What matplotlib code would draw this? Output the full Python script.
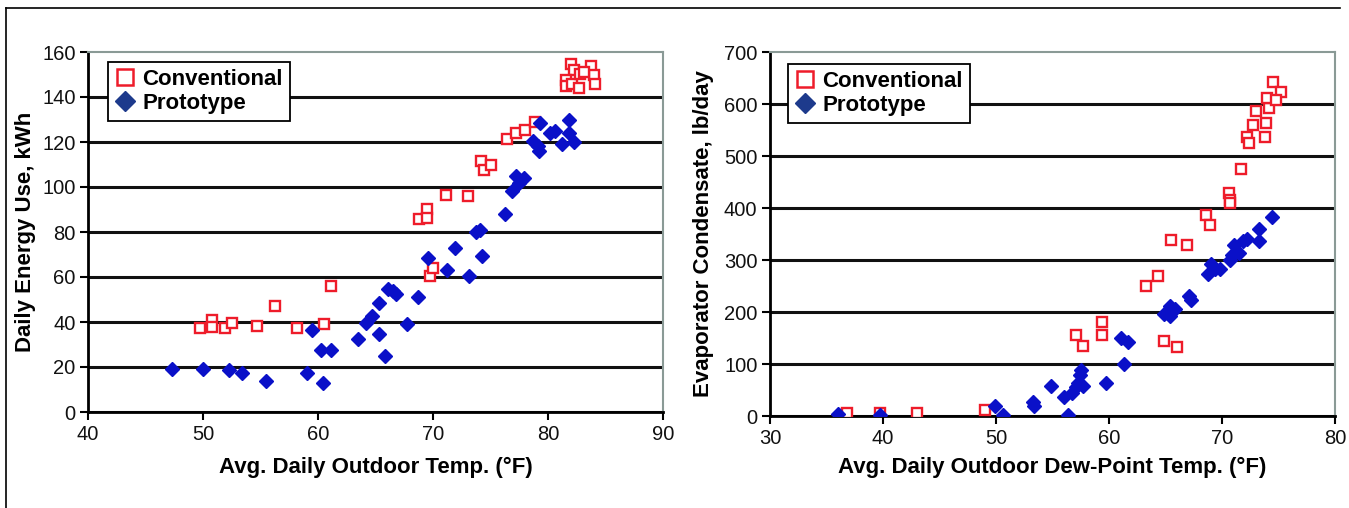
import matplotlib.pyplot as plt
from matplotlib.lines import Line2D

plt.rcParams['font.family'] = ['Liberation Sans', 'DejaVu Sans']

# left chart: daily energy use vs outdoor temperature
conv_temp = [49.7, 50.8, 50.8, 51.9, 52.5, 54.7, 56.3, 58.2, 60.5, 61.1,
             68.8, 69.5, 69.5, 69.7, 70.0, 71.1, 73.0, 74.2, 74.4, 75.0,
             76.4, 77.2, 78.0, 78.9, 82.0, 82.3, 81.6, 81.6, 82.1, 82.7,
             82.8, 83.7, 84.0, 84.1, 83.1]
conv_kwh = [37.2, 41.0, 37.9, 37.2, 39.6, 38.2, 47.1, 37.2, 39.2, 56.2,
            85.8, 90.2, 86.3, 60.4, 64.2, 96.4, 95.8, 111.4, 107.4, 109.8,
            121.5, 124.2, 125.3, 128.7, 154.7, 152.0, 147.6, 144.9, 145.8, 144.0,
            150.2, 153.8, 149.8, 145.8, 151.1]

proto_temp = [47.3, 50.0, 52.3, 53.4, 55.5, 59.0, 60.4, 59.5, 60.3, 61.1,
              63.5, 64.2, 64.7, 65.3, 65.3, 65.8, 66.1, 66.5, 66.8, 67.7,
              68.7, 69.6, 71.2, 71.9, 73.1, 73.7, 74.1, 74.3, 76.3, 76.9,
              77.2, 77.5, 77.9, 78.7, 79.1, 79.2, 79.3, 80.2, 80.6, 81.2,
              81.8, 81.8, 82.3]
proto_kwh = [19.0, 19.0, 18.5, 17.2, 14.0, 17.3, 12.7, 36.4, 27.5, 27.5,
             32.5, 39.5, 42.5, 48.5, 34.7, 24.8, 54.5, 53.8, 52.6, 39.0,
             51.0, 68.3, 63.3, 72.8, 60.4, 80.0, 80.8, 69.5, 88.2, 98.3,
             104.8, 101.8, 104.2, 120.3, 118.3, 116.2, 128.3, 124.0, 125.0, 119.0,
             129.6, 123.9, 120.0]

# right chart: condensate vs dew point
dew_conv = [36.8, 39.7, 43.0, 49.0, 57.1, 57.7, 59.4, 59.4, 63.3, 64.3,
            64.9, 65.5, 66.0, 66.9, 68.6, 68.9, 70.6, 70.7, 70.7, 71.7,
            72.2, 72.4, 72.7, 73.0, 73.9, 73.8, 74.2, 74.0, 74.5, 75.2,
            74.8]
cond_conv = [6, 6, 5, 11, 156, 135, 181, 156, 250, 270,
             145, 339, 133, 329, 386, 367, 428, 416, 409, 475,
             536, 525, 559, 586, 564, 536, 592, 612, 643, 624,
             608]

dew_proto = [36.0, 39.7, 49.9, 50.6, 53.3, 53.4, 54.9, 56.0, 56.4, 56.7,
             57.1, 57.3, 57.4, 57.5, 57.7, 59.7, 61.1, 61.7, 61.3, 64.9,
             65.4, 65.4, 65.8, 65.2, 67.1, 67.3, 69.0, 68.8, 69.4, 69.8,
             70.7, 70.9, 71.1, 71.5, 71.9, 72.2, 73.3, 73.3, 74.4]
cond_proto = [3, 1, 20, 2, 26, 19, 57, 37, 2, 45,
              55, 64, 78, 88, 58, 64, 150, 143, 100, 196,
              211, 192, 205, 201, 231, 224, 292, 274, 282, 282,
              300, 310, 329, 313, 336, 341, 337, 360, 382]

left_xticks = [40, 50, 60, 70, 80, 90]
left_yticks = [0, 20, 40, 60, 80, 100, 120, 140, 160]
right_xticks = [30, 40, 50, 60, 70, 80]
right_yticks = [0, 100, 200, 300, 400, 500, 600, 700]

RED = '#ee1c2a'
BLUE = '#0a10c8'
NAVY = '#1d3a8c'
W, H = 1349, 508

fig = plt.figure(figsize=(W / 100, H / 100), dpi=100)
ax1 = fig.add_axes([88 / W, 1 - 412 / H, 575 / W, 360 / H])
ax2 = fig.add_axes([770 / W, 1 - 416 / H, 565 / W, 364 / H])

# outer frame (top and left only)
fig.add_artist(Line2D([6 / W, 1340 / W], [1 - 8 / H, 1 - 8 / H], color='black', lw=1.2))
fig.add_artist(Line2D([6 / W, 6 / W], [1 - 8 / H, 0], color='black', lw=1.2))


def style(ax, xticks, yticks, xlabel, ylabel, xlab_y, ylab_x):
    ax.set_xlim(xticks[0], xticks[-1])
    ax.set_ylim(yticks[0], yticks[-1])
    ax.set_xticks(xticks)
    ax.set_yticks(yticks)
    ax.tick_params(direction='out', length=6, width=1.5, labelsize=14.5,
                   labelcolor='#111111', pad=3)
    for s in ['left', 'bottom']:
        ax.spines[s].set_color('black')
        ax.spines[s].set_linewidth(2)
    for s in ['top', 'right']:
        ax.spines[s].set_color('#8a9a96')
        ax.spines[s].set_linewidth(1.5)
    ax.yaxis.grid(True, color='#111111', lw=2.2)
    ax.get_ygridlines()[-1].set_visible(False)
    ax.set_axisbelow(True)
    ax.set_xlabel(xlabel, fontsize=16, fontweight='bold', va='center')
    ax.set_ylabel(ylabel, fontsize=16, fontweight='bold', va='center')
    ax.xaxis.set_label_coords(0.5, xlab_y)
    ax.yaxis.set_label_coords(ylab_x, 0.5)


def points(ax, xc, yc, xp, yp, anchor):
    ax.plot(xc, yc, 's', ms=7, mfc='white', mec=RED, mew=1.7, ls='none', zorder=3)
    ax.plot(xp, yp, 'D', ms=7, mfc=BLUE, mec=BLUE, ls='none', zorder=4)
    handles = [
        Line2D([], [], marker='s', ls='none', ms=11, mfc='white', mec=RED, mew=1.8),
        Line2D([], [], marker='D', ls='none', ms=10, mfc=NAVY, mec=NAVY),
    ]
    leg = ax.legend(handles, ['Conventional', 'Prototype'], loc='upper left',
                    bbox_to_anchor=anchor, bbox_transform=fig.transFigure,
                    prop={'size': 16, 'weight': 'bold'}, frameon=True,
                    fancybox=False, framealpha=1, edgecolor='black',
                    borderpad=0.3, labelspacing=0.15, handlelength=0.9,
                    handletextpad=0.35, borderaxespad=0)
    leg.get_frame().set_linewidth(1.3)


style(ax1, left_xticks, left_yticks, 'Avg. Daily Outdoor Temp. (°F)',
      'Daily Energy Use, kWh', -0.153, -0.108)
points(ax1, conv_temp, conv_kwh, proto_temp, proto_kwh, (108 / W, 1 - 62 / H))

style(ax2, right_xticks, right_yticks, 'Avg. Daily Outdoor Dew-Point Temp. (°F)',
      'Evaporator Condensate, lb/day', -0.140, -0.117)
points(ax2, dew_conv, cond_conv, dew_proto, cond_proto, (788 / W, 1 - 64 / H))

fig.savefig('out.png', dpi=100)
